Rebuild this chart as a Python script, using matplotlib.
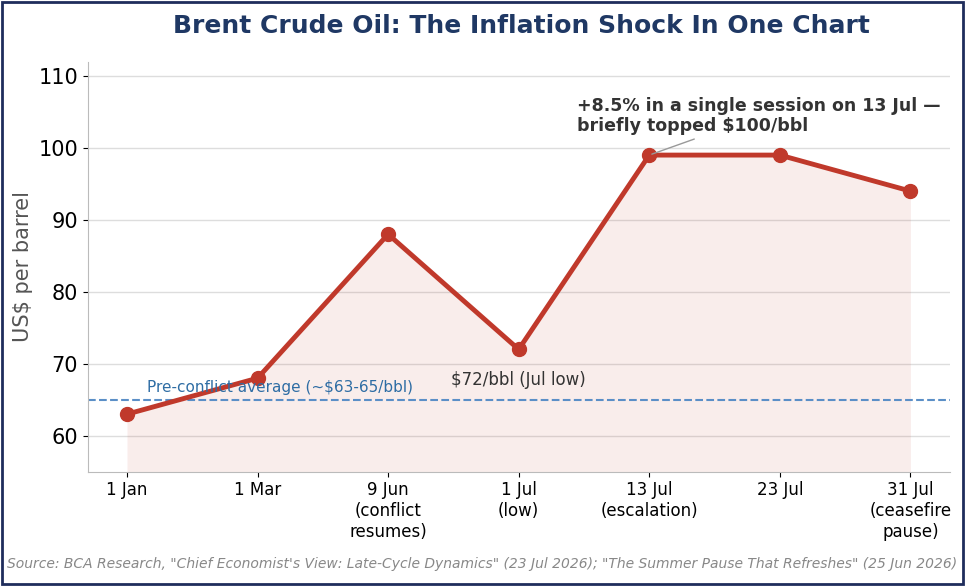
import matplotlib
matplotlib.use("Agg")
import matplotlib.pyplot as plt
from matplotlib.patches import Rectangle

labels = ["1 Jan", "1 Mar", "9 Jun\n(conflict\nresumes)", "1 Jul\n(low)", "13 Jul\n(escalation)", "23 Jul", "31 Jul\n(ceasefire\npause)"]
prices = [63, 68, 88, 72, 99, 99, 94]
pre_avg = 65

fig = plt.figure(figsize=(9.65, 5.86), dpi=100)
ax = fig.add_axes([0.091, 0.195, 0.893, 0.70])
x = list(range(len(labels)))
red = "#c0392b"
ax.fill_between(x, prices, 55, color=red, alpha=0.09, lw=0)
ax.plot(x, prices, color=red, lw=3.5, marker="o", ms=10, zorder=3)
ax.axhline(pre_avg, color="#5b8fc7", ls="--", lw=1.5)
ax.text(0.15, 65.7, "Pre-conflict average (~$63-65/bbl)", color="#2e6da4", fontsize=11, va="bottom")
ax.text(3, 66.5, "$72/bbl (Jul low)", color="#333333", fontsize=12, ha="center", va="bottom")
ax.annotate("+8.5% in a single session on 13 Jul —\nbriefly topped $100/bbl", xy=(4, 99), xytext=(3.45, 102.3),
            fontsize=12.5, fontweight="bold", color="#333333",
            arrowprops=dict(arrowstyle="-", color="#999999", lw=1))
ax.set_xlim(-0.3, 6.3)
ax.set_ylim(55, 112)
ax.set_yticks([60, 70, 80, 90, 100, 110])
ax.set_xticks(x)
ax.set_xticklabels(labels, fontsize=12)
ax.tick_params(axis="y", labelsize=15)
ax.grid(axis="y", color="#dddddd", lw=1)
ax.set_axisbelow(True)
for s in ["top", "right"]:
    ax.spines[s].set_visible(False)
for s in ["left", "bottom"]:
    ax.spines[s].set_color("#bbbbbb")
ax.set_ylabel("US$ per barrel", fontsize=15, color="#555555")
fig.text(0.54, 0.955, "Brent Crude Oil: The Inflation Shock In One Chart", ha="center", va="center",
         fontsize=18, fontweight="bold", color="#1f3864")
fig.text(0.5, 0.038, 'Source: BCA Research, "Chief Economist\'s View: Late-Cycle Dynamics" (23 Jul 2026); "The Summer Pause That Refreshes" (25 Jun 2026)',
         ha="center", va="center", fontsize=10, style="italic", color="#888888")
fig.patches.append(Rectangle((0.002, 0.003), 0.996, 0.994, transform=fig.transFigure, fill=False, ec="#1f2d5c", lw=2))
fig.savefig("out.png", dpi=100)
